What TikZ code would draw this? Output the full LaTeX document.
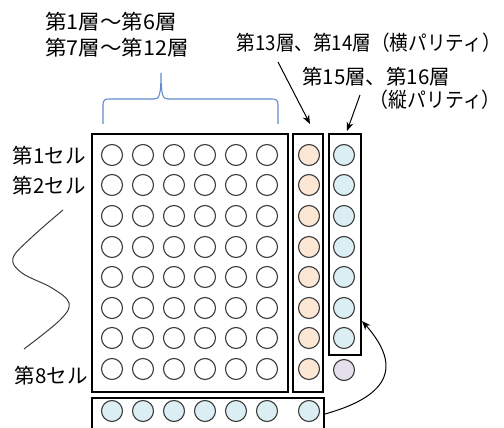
\documentclass[tikz,border=0pt]{standalone}
\usepackage{fontspec}
\setmainfont{Noto Sans CJK JP}
\usetikzlibrary{arrows.meta}
\definecolor{peach}{RGB}{252,230,212}
\definecolor{ltblue}{RGB}{218,238,243}
\definecolor{lilac}{RGB}{228,223,236}
\definecolor{ringcol}{RGB}{60,60,60}
\definecolor{bracecol}{RGB}{95,140,205}
\tikzset{
  cell/.style={circle, draw=ringcol, line width=1.1pt, minimum size=21pt, inner sep=0pt},
  framebox/.style={draw=black, line width=1.6pt},
  lbl/.style={inner sep=0pt, font=\fontsize{20.5}{22}\selectfont},
  pointer/.style={-{Stealth[length=9pt,width=7pt]}, line width=1pt}
}
\begin{document}
\begin{tikzpicture}[x=1pt,y=-1pt]
\useasboundingbox (0,0) rectangle (504,428);
% frames
\draw[framebox] (92,134) rectangle (288,392);
\draw[framebox] (293,134) rectangle (323,392);
\draw[framebox] (329,134) rectangle (361,355);
\coordinate (blueright) at (362,321);
\draw[framebox] (92,430) -- (92,398) -- (324,398) -- (324,430);
\coordinate (bottomright) at (325,414);
% data cells
\foreach \c/\x in {1/112,2/143,3/174,4/205,5/236,6/267}{
  \foreach \r/\y in {1/155,2/185,3/216,4/247,5/277,6/308,7/338,8/369}{
    \node[cell] (d-\r-\c) at (\x,\y) {};
  }
  \node[cell, fill=ltblue] (b-\c) at (\x,411) {};
}
\foreach \r/\y in {1/155,2/185,3/216,4/247,5/277,6/308,7/338,8/369}{
  \node[cell, fill=peach] (o-\r) at (309,\y) {};
}
\foreach \r/\y in {1/155,2/185,3/216,4/247,5/277,6/308,7/338}{
  \node[cell, fill=ltblue] (v-\r) at (344,\y) {};
}
\node[cell, fill=lilac] (corner) at (344,370) {};
\node[cell, fill=ltblue] (b-7) at (309,411) {};
% labels
\node[lbl, anchor=west] (l16) at (45,22) {\scalebox{1.05}[1]{第1層～第6層}};
\node[lbl, anchor=west] (l712) at (45,48) {\scalebox{1.05}[1]{第7層～第12層}};
\node[lbl, anchor=east] (lh) at (501,43) {\scalebox{0.91}[1]{第13層、第14層（横パリティ）}};
\node[lbl, anchor=west] (lv1) at (302,77) {第15層、第16層};
\node[lbl, anchor=east] (lv2) at (501,100) {\scalebox{0.92}[1]{（縦パリティ）}};
\node[lbl, anchor=east] (s1) at (86,156) {第1セル};
\node[lbl, anchor=east] (s2) at (86,186) {第2セル};
\node[lbl, anchor=east] (s8) at (88,376) {第8セル};
% brace
\draw[bracecol, line width=1.1pt] (103,124) -- (103,105) .. controls (103,100) and (105,99) .. (109,99) -- (154,99) .. controls (159,99) and (161,96) .. (161,73) .. controls (161,96) and (163,99) .. (168,99) -- (272,99) .. controls (276,99) and (278,100) .. (278,105) -- (278,124);
% arrows
\coordinate (a1) at (278,62);
\coordinate (a1e) at (310,124);
\coordinate (a2) at (360,95);
\coordinate (a2e) at (347,131);
\draw[pointer] (a1) -- (a1e);
\draw[pointer] (a2) -- (a2e);
\draw[pointer] (bottomright) .. controls (375,400) and (410,375) .. (blueright);
% wave
\draw[line width=1pt, ringcol] plot[smooth, tension=0.6] coordinates {(63,210) (32,237) (13,258) (22,273) (52,288) (69,303) (60,320) (24,349)};
\end{tikzpicture}
\end{document}
